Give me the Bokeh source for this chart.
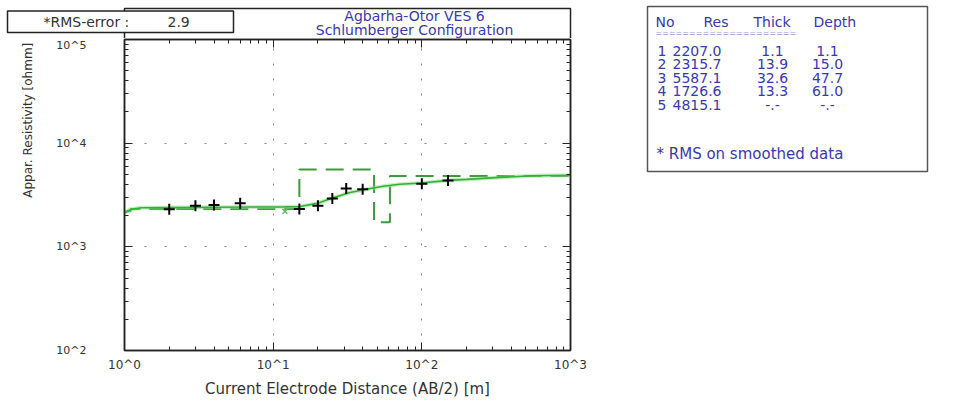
import math
from bokeh.plotting import figure
from bokeh.layouts import row, column
from bokeh.models import LogAxis, FixedTicker, CustomJSTickFormatter, Range1d
from bokeh.core.properties import value
from bokeh.embed import file_html
from bokeh.resources import INLINE

# ---------------- data ----------------
# field data: AB/2 [m] and apparent resistivity [ohm m]
field_ab2 = [2, 3, 4, 6, 15, 20, 25, 31, 40, 100, 150]
field_rho = [2300, 2495, 2530, 2640, 2320, 2495, 2930, 3650, 3590, 4070, 4375]
# masked (rejected) point
masked_ab2 = [12]
masked_rho = [2200]

# smoothed model curve
curve_ab2 = [1.0, 1.1, 1.3, 2, 4, 8, 12, 15.2, 19.7, 25.4, 32.9, 42.5, 55, 71, 100, 150, 200, 334, 558, 1000]
curve_rho = [2120, 2300, 2380, 2390, 2410, 2420, 2430, 2445, 2625, 2970, 3340, 3590, 3835, 4010, 4135, 4375, 4470, 4675, 4850, 4900]

# layered model
layer_no = [1, 2, 3, 4, 5]
layer_res = [2207.0, 2315.7, 5587.1, 1726.6, 4815.1]
layer_thick = [1.1, 13.9, 32.6, 13.3, None]
layer_depth = [1.1, 15.0, 47.7, 61.0, None]

title_lines = ["Agbarha-Otor VES 6", "Schlumberger Configuration"]
rms_error = 2.9
x_ticks = [1, 10, 100, 1000]
y_ticks = [100, 1000, 10000, 100000]
x_title = "Current Electrode Distance (AB/2) [m]"
y_title = "Appar. Resistivity [ohmm]"
table_header = ["No", "Res", "Thick", "Depth"]
table_note = "* RMS on smoothed data"

# ---------------- style ----------------
FONT = "DejaVu Sans"
BLUE = "#3838b0"
DARK = "#333333"
FRAME = "#222222"

HEAD_H = 38
TOTAL_H = 400
LEFT_W = 640
YLAB_W = 45
TABLE_W = 310


def blank_fig(w, h, x0, x1, y0, y1):
    """Figure whose frame covers the whole canvas; y is page pixel y, negated."""
    f = figure(width=w, height=h, x_range=Range1d(x0, x1), y_range=Range1d(-y1, -y0),
               x_axis_type=None, y_axis_type=None, output_backend="svg",
               toolbar_location=None, min_border=0)
    f.outline_line_color = None
    f.background_fill_color = "white"
    f.border_fill_color = "white"
    f.grid.visible = False
    return f


def put_text(f, xs, ys, texts, size="14px", color=DARK, align="left", angle=0.0):
    f.text(x=xs, y=[-y for y in ys], text=texts, text_font=value(FONT),
           text_font_size=value(size), text_color=color, text_align=align,
           text_baseline="middle", angle=angle)


# ---------- header strip (RMS box + title box) ----------
head = blank_fig(LEFT_W, HEAD_H, 0, LEFT_W, 0, HEAD_H)
head.quad(left=[124], right=[570], top=[-8], bottom=[-(HEAD_H + 5)],
          fill_color="white", line_color=FRAME, line_width=1.5)
head.quad(left=[7], right=[233], top=[-10.5], bottom=[-32],
          fill_color="white", line_color=FRAME, line_width=1.5)
put_text(head, [43], [21], ["*RMS-error  :"])
put_text(head, [167], [21], [f"{rms_error:.1f}"])
put_text(head, [414, 414], [15, 29], title_lines, color=BLUE, align="center")

# ---------- y-axis title ----------
ylab = blank_fig(YLAB_W, TOTAL_H - HEAD_H, 0, YLAB_W, HEAD_H, TOTAL_H)
put_text(ylab, [27], [132], [y_title], size="12px", align="center", angle=math.pi / 2)

# ---------- main plot ----------
x_minor = [m * 10 ** e for e in range(0, 3) for m in range(2, 10)]
y_minor = [m * 10 ** e for e in range(2, 5) for m in range(2, 10)]

p = figure(width=LEFT_W - YLAB_W, height=TOTAL_H - HEAD_H,
           x_axis_type="log", y_axis_type="log",
           x_range=(1, 1000), y_range=(100, 100000),
           output_backend="svg", toolbar_location=None,
           min_border_left=124 - YLAB_W, min_border_right=LEFT_W - 570,
           min_border_top=39 - HEAD_H, min_border_bottom=TOTAL_H - 354)
p.title.visible = False
p.background_fill_color = "white"
p.border_fill_color = "white"
p.outline_line_color = FRAME
p.outline_line_width = 1.5

fmt = CustomJSTickFormatter(code="return '10^' + Math.round(Math.log10(tick));")
blank_fmt = CustomJSTickFormatter(code="return '';")


def style_axis(ax, ticks, minor, labels=True):
    ax.ticker = FixedTicker(ticks=ticks, minor_ticks=minor)
    ax.formatter = fmt if labels else blank_fmt
    ax.axis_line_color = FRAME
    ax.axis_line_width = 1.5
    ax.major_tick_in = 8
    ax.major_tick_out = 0
    ax.minor_tick_in = 4
    ax.minor_tick_out = 0
    ax.major_tick_line_color = FRAME
    ax.minor_tick_line_color = FRAME
    ax.major_label_text_font = FONT
    ax.major_label_text_color = DARK
    if not labels:
        ax.major_label_standoff = 0


xa = p.xaxis[0]
ya = p.yaxis[0]
style_axis(xa, x_ticks, x_minor)
style_axis(ya, y_ticks, y_minor)
xa.major_label_text_font_size = "12px"
xa.major_label_standoff = 7
ya.major_label_text_font_size = "11px"
ya.major_label_standoff = 38
xa.axis_label = x_title
xa.axis_label_text_font = FONT
xa.axis_label_text_font_size = "15px"
xa.axis_label_text_font_style = "normal"
xa.axis_label_text_color = DARK
xa.axis_label_standoff = 5

top_ax = LogAxis()
style_axis(top_ax, x_ticks, x_minor, labels=False)
p.add_layout(top_ax, "above")
right_ax = LogAxis()
style_axis(right_ax, y_ticks, y_minor, labels=False)
p.add_layout(right_ax, "right")

p.xgrid.ticker = FixedTicker(ticks=x_ticks)
p.ygrid.ticker = FixedTicker(ticks=y_ticks)
p.xgrid.grid_line_color = "#888888"
p.xgrid.grid_line_dash = "2 13"
p.ygrid.grid_line_color = "#888888"
p.ygrid.grid_line_dash = "2 18"

# layered model as a step line
step_x = [x_ticks[0]]
step_y = [layer_res[0]]
for i, d in enumerate(layer_depth[:-1]):
    step_x += [d, d]
    step_y += [layer_res[i], layer_res[i + 1]]
step_x.append(x_ticks[-1])
step_y.append(layer_res[-1])

p.line(step_x, step_y, line_color="#3d9a3d", line_width=2, line_dash="18 9")
p.line(curve_ab2, curve_rho, line_color="#8fe08f", line_width=4, line_alpha=0.5)
p.line(curve_ab2, curve_rho, line_color="#35b035", line_width=1.6)
p.scatter(field_ab2, field_rho, marker="cross", size=11, line_color="black", line_width=2)
p.scatter(masked_ab2, masked_rho, marker="x", size=7, line_color="#66bb66", line_width=1.5)

# ---------- layer table ----------
tab = blank_fig(TABLE_W, TOTAL_H, LEFT_W, LEFT_W + TABLE_W, 0, TOTAL_H)
tab.quad(left=[647], right=[927], top=[-6], bottom=[-171],
         fill_color="white", line_color="#555555", line_width=1.5)
put_text(tab, [655, 703, 753, 813], [21] * 4, table_header, color=BLUE)
put_text(tab, [655], [33], ["=" * 21], size="8px", color="#9a9ad0")
row_y = [50, 63.5, 77, 90.5, 104]
put_text(tab, [657] * 5, row_y, [str(n) for n in layer_no], color=BLUE)
put_text(tab, [672] * 5, row_y, [f"{r:.1f}" for r in layer_res], color=BLUE)
put_text(tab, [772] * 5, row_y,
         [f"{t:.1f}" if t is not None else "-.-" for t in layer_thick],
         color=BLUE, align="center")
put_text(tab, [827] * 5, row_y,
         [f"{d:.1f}" if d is not None else "-.-" for d in layer_depth],
         color=BLUE, align="center")
put_text(tab, [656], [153], [table_note], size="15px", color=BLUE)

layout = row(column(head, row(ylab, p)), tab)
open("out.html", "w").write(file_html(layout, INLINE))
